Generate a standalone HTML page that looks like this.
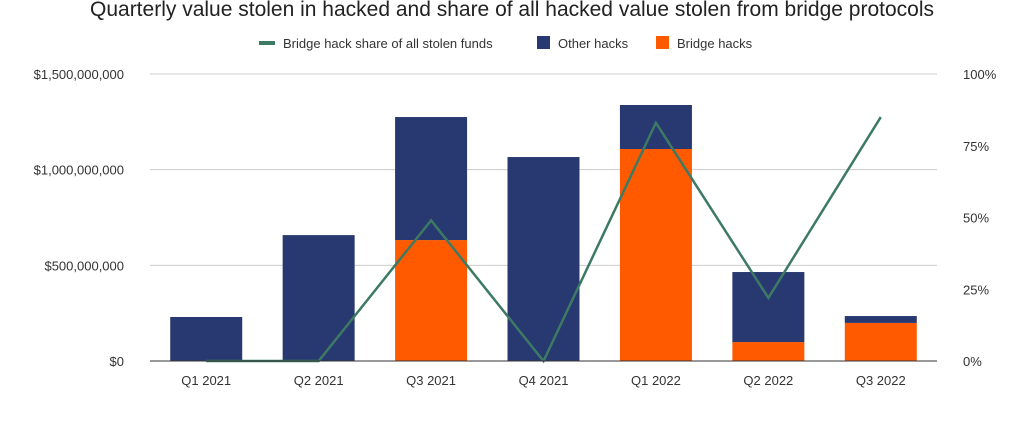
<!DOCTYPE html>
<html><head><meta charset="utf-8"><style>
body{margin:0;background:#fff;width:1024px;height:416px;overflow:hidden;font-family:"Liberation Sans",sans-serif}
</style></head><body>
<svg id="chart" width="1024" height="416" xmlns="http://www.w3.org/2000/svg">
<text x="512" y="16" text-anchor="middle" font-size="21" fill="#222">Quarterly value stolen in hacked and share of all hacked value stolen from bridge protocols</text>
<g font-size="13" fill="#333">
<g><rect x="259" y="41" width="16" height="4" fill="#3c7a64"/><text x="283" y="48">Bridge hack share of all stolen funds</text></g>
<g><rect x="537" y="36" width="13" height="13" fill="#283870"/><text x="558" y="48">Other hacks</text></g>
<g><rect x="656" y="36" width="13" height="13" fill="#ff5a00"/><text x="677" y="48">Bridge hacks</text></g>
</g>
<g id="grid"></g><g id="bars"></g><g id="line"></g><g id="axes"></g>
</svg>
<script>
const categories=["Q1 2021","Q2 2021","Q3 2021","Q4 2021","Q1 2022","Q2 2022","Q3 2022"];
const bridgeHacks=[0,0,632e6,0,1108e6,99e6,199e6];
const otherHacks=[230e6,658e6,643e6,1066e6,230e6,366e6,36e6];
const bridgeShare=[0,0,49,0,83,22,85];
const leftTicks=[0,500e6,1000e6,1500e6];
const leftTickLabels=["$0","$500,000,000","$1,000,000,000","$1,500,000,000"];
const rightTicks=[0,25,50,75,100];
const rightTickLabels=["0%","25%","50%","75%","100%"];
const NS="http://www.w3.org/2000/svg";
const x0=150,x1=937,yB=361,yT=74;
const yL=v=>yB-(v/1.5e9)*(yB-yT);
const yR=v=>yB-(v/100)*(yB-yT);
const band=(x1-x0)/categories.length;
const xc=i=>x0+band*(i+0.5);
function mk(p,t,a){const e=document.createElementNS(NS,t);for(const k in a)e.setAttribute(k,a[k]);p.appendChild(e);return e;}
const grid=document.getElementById('grid'),axes=document.getElementById('axes'),bars=document.getElementById('bars'),line=document.getElementById('line');
leftTicks.forEach((v,i)=>{
 const g=mk(grid,'line',{x1:x0,x2:x1,y1:yL(v),y2:yL(v),stroke:i==0?'#333':'#ccc','stroke-width':1});
 
 
 const t=mk(axes,'text',{x:124,y:yL(v)+5,'text-anchor':'end','font-size':13,fill:'#333'});t.textContent=leftTickLabels[i];
 
 
});
rightTicks.forEach((v,i)=>{
 const t=mk(axes,'text',{x:963,y:yR(v)+5,'font-size':13,fill:'#333'});t.textContent=rightTickLabels[i];
 
 
});
const bw=72;
categories.forEach((c,i)=>{
 const yb=yL(bridgeHacks[i]);
 const r1=mk(bars,'rect',{x:xc(i)-bw/2,y:yb,width:bw,height:yB-yb,fill:'#ff5a00'});
 
 
 const yo=yL(bridgeHacks[i]+otherHacks[i]);
 const r2=mk(bars,'rect',{x:xc(i)-bw/2,y:yo,width:bw,height:yb-yo,fill:'#283870'});
 
 
 const t=mk(axes,'text',{x:xc(i),y:385,'text-anchor':'middle','font-size':13,fill:'#333'});t.textContent=c;
 
 
});
mk(axes,'line',{x1:x0,x2:x1,y1:yB,y2:yB,stroke:'#333'});
const pts=bridgeShare.map((v,i)=>xc(i)+','+yR(v)).join(' ');
const pl=mk(line,'polyline',{points:pts,fill:'none',stroke:'#3c7a64','stroke-width':2.5,'stroke-linejoin':'miter'});


</script>
</body></html>
